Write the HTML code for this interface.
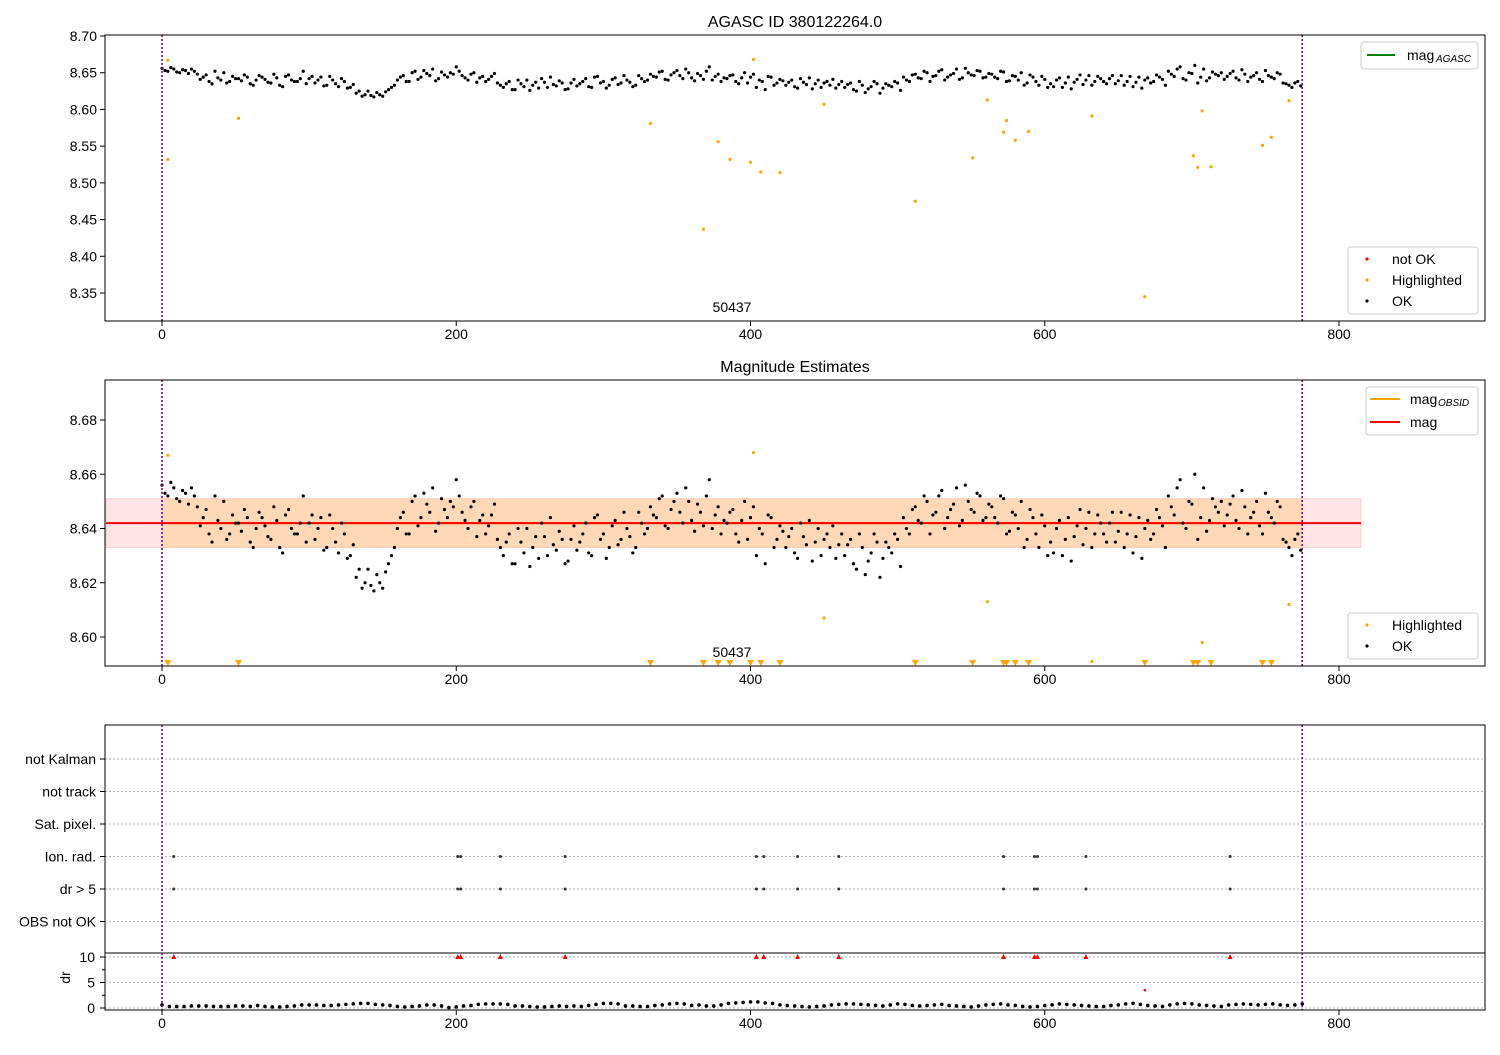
<!DOCTYPE html>
<html><head><meta charset="utf-8">
<style>
body{margin:0;background:#fff;}
svg text{font-family:"Liberation Sans","DejaVu Sans",sans-serif;fill:#000;}
</style></head>
<body>
<svg id="chart" width="1500" height="1050" xmlns="http://www.w3.org/2000/svg"></svg>
<script>
// ---- data ----
const magStep = 4;
// frames 0,4,8,...
const magMilli = [56,52,55,50,53,55,
48,44,38,52,40,36,45,
42,47,35,40,44,37,48,33,45,40,38,52,42,
36,44,33,40,31,38,30,
22,18,25,17,20,24,30,
40,46,38,52,44,49,55,42,47,50,58,
46,40,50,43,38,45,36,
30,38,27,35,40,33,29,37,44,32,36,28,41,
35,42,30,45,38,33,43,36,40,31,46,38,
48,44,52,40,50,46,55,43,49,41,58,45,38,
42,47,35,50,44,30,38,45,33,41,
33,40,29,37,43,35,30,38,41,34,
30,36,25,33,28,38,22,35,31,36,
44,38,48,42,50,45,52,40,47,55,43,50,46,52,44,
48,42,51,39,45,50,36,44,33,41,
35,40,30,44,37,47,40,33,45,38,
42,35,46,38,31,44,40,36,47,41,
52,45,58,40,49,36,55,43,48,50,
45,52,40,48,44,50,38,46,42,48,
35,30,38];
// frames 2,6,10,...
const magMilliB = [53,57,51,54,49,52,
41,47,35,43,50,38,42,
39,44,33,46,41,36,43,31,47,38,42,35,45,
40,32,45,35,42,29,34,
25,20,19,23,18,27,33,
44,38,50,41,53,46,39,51,44,48,52,
43,48,37,45,41,49,33,
35,27,40,31,26,37,42,30,34,39,27,36,32,
38,31,44,36,29,41,34,46,37,33,42,40,
45,51,41,47,53,42,50,39,46,52,40,48,43,
46,38,43,36,48,40,27,44,36,39,
37,31,42,34,28,40,36,33,29,38,
34,27,38,23,31,35,29,33,38,26,
40,47,43,52,38,46,54,44,49,41,56,47,53,43,49,
44,52,38,46,40,33,47,38,45,30,
31,43,36,28,41,34,46,38,42,35,
46,39,33,45,37,29,43,38,44,33,
48,55,42,50,60,44,39,51,46,41,
49,43,54,38,46,41,53,44,50,36,
33,36,32];
const hlX = [4,4,52,332,368,378,386,400,402,407,420,450,512,551,561,572,574,580,589,632,668,701,704,707,713,748,754,766];
const hlMag = [8.667,8.532,8.588,8.581,8.437,8.556,8.532,8.528,8.668,8.515,8.514,8.607,8.475,8.534,8.613,8.569,8.585,8.558,8.570,8.591,8.345,8.537,8.521,8.598,8.522,8.551,8.562,8.612];
const flagX = [8,201,203,230,274,404,409,432,460,572,593,595,628,726];
const drStep = 5;
const drTenths = [6,3,3,3,4,4,4,3,3,3,4,4,3,5,3,2,2,3,4,6,6,6,5,5,6,7,8,9,9,7,6,5,3,2,3,4,6,6,4,1,2,4,5,7,8,8,8,7,4,4,3,2,2,3,4,3,4,3,5,7,9,9,8,4,4,3,3,5,6,8,9,8,5,6,4,4,6,9,10,11,12,12,10,9,6,5,4,3,2,3,4,6,7,8,8,7,6,5,4,6,8,7,5,4,5,6,7,5,4,3,2,4,6,7,8,6,5,3,2,3,5,6,8,7,6,5,4,3,3,5,6,8,9,7,5,4,3,6,8,9,8,6,5,4,3,6,7,8,7,6,7,8,6,5,6,8];
const drOutX = [668]; const drOutV = [3.5];
const magMean = 8.642, magLo = 8.633, magHi = 8.651, nFrames = 775;
const xTicks = [0,200,400,600,800];
const top1Ticks = [8.35,8.40,8.45,8.50,8.55,8.60,8.65,8.70];
const top2Ticks = [8.60,8.62,8.64,8.66,8.68];
const cats = ["not Kalman","not track","Sat. pixel.","Ion. rad.","dr > 5","OBS not OK"];
const drTicks = [0,5,10];

const NS="http://www.w3.org/2000/svg", svg=document.getElementById('chart');
function el(tag,attrs,parent){const e=document.createElementNS(NS,tag);for(const k in attrs)e.setAttribute(k,attrs[k]);(parent||svg).appendChild(e);return e;}
function txt(s,x,y,anchor,size,parent){const t=el('text',{x:x,y:y,'text-anchor':anchor||'middle','font-size':size||14},parent);t.textContent=s;return t;}
const L=105,R=1485;
const X=v=>162+(v)*(1339-162)/800;
const Y1=v=>36+(8.70-v)*(293-36)/0.35;
const Y2=v=>420+(8.68-v)*(637-420)/0.08;
const YD=v=>1008-v*(1008-957)/10;
const magPts = [];
magMilli.forEach((v,i)=>magPts.push([i*magStep, 8.6+v/1000]));
magMilliB.forEach((v,i)=>magPts.push([i*magStep+2, 8.6+v/1000]));

function frame(top,bot,name){
  el('rect',{x:L,y:top,width:R-L,height:bot-top,fill:'none',stroke:'#000','stroke-width':1});
  xTicks.forEach(t=>{el('line',{x1:X(t),x2:X(t),y1:bot,y2:bot+5,stroke:'#000'});txt(String(t),X(t),bot+18);});
}
function vlines(top,bot){
  [0,nFrames].forEach(v=>{el('line',{x1:X(v),x2:X(v),y1:top,y2:bot,stroke:'#800080','stroke-width':1.6,'stroke-dasharray':'2,2'});});
}
// ===== panel 1 =====
const g1=el('g',{});
txt("AGASC ID 380122264.0",795,27,'middle',16,g1);
top1Ticks.forEach(t=>{el('line',{x1:L-5,x2:L,y1:Y1(t),y2:Y1(t),stroke:'#000'},g1);txt(t.toFixed(2),L-8,Y1(t)+5,'end',14,g1);});
vlines(35,321);
magPts.forEach(p=>{const c=el('circle',{cx:X(p[0]),cy:Y1(p[1]),r:1.6,fill:'#000'},g1);});
hlX.forEach((x,i)=>{const c=el('circle',{cx:X(x),cy:Y1(hlMag[i]),r:1.6,fill:'orange'},g1);});
txt("50437",732,312,'middle',14,g1);
frame(35,321,'agasc-axes');
// legends
let lg=el('g',{});
el('rect',{x:1361,y:42,width:117,height:27,rx:3,fill:'#fff',stroke:'#ccc'},lg);
el('line',{x1:1367,x2:1395,y1:55,y2:55,stroke:'green','stroke-width':2},lg);
txt("mag",1407,60,'start',14,lg);txt("AGASC",1436,62,'start',10,lg).setAttribute('font-style','italic');
lg=el('g',{});
el('rect',{x:1348,y:247,width:130,height:67,rx:3,fill:'#fff',stroke:'#ccc'},lg);
[['not OK','red',259],['Highlighted','orange',280],['OK','#000',301]].forEach(a=>{el('circle',{cx:1367,cy:a[2],r:1.6,fill:a[1]},lg);txt(a[0],1392,a[2]+5,'start',14,lg);});

// ===== panel 2 =====
const g2=el('g',{});
txt("Magnitude Estimates",795,372,'middle',16,g2);
el('rect',{x:L+1,y:Y2(magHi),width:X(815)-L-1,height:Y2(magLo)-Y2(magHi),fill:'rgba(255,0,0,0.1)',stroke:'rgba(255,0,0,0.15)'},g2);
el('rect',{x:X(0),y:Y2(magHi),width:X(nFrames)-X(0),height:Y2(magLo)-Y2(magHi),fill:'rgba(255,165,0,0.2)'},g2);
el('line',{x1:X(0),x2:X(nFrames),y1:Y2(magMean),y2:Y2(magMean),stroke:'orange','stroke-width':2},g2);
el('line',{x1:L+1,x2:X(815),y1:Y2(magMean),y2:Y2(magMean),stroke:'red','stroke-width':2},g2);
top2Ticks.forEach(t=>{el('line',{x1:L-5,x2:L,y1:Y2(t),y2:Y2(t),stroke:'#000'},g2);txt(t.toFixed(2),L-8,Y2(t)+5,'end',14,g2);});
vlines(380,666);
magPts.forEach(p=>{const c=el('circle',{cx:X(p[0]),cy:Y2(p[1]),r:1.6,fill:'#000'},g2);});
hlX.forEach((x,i)=>{
  const m=hlMag[i];
  if(m>=8.5893){const c=el('circle',{cx:X(x),cy:Y2(m),r:1.6,fill:'orange'},g2);}
  else{const cx=X(x);const p=el('polygon',{points:`${cx-3.5},660 ${cx+3.5},660 ${cx},666`,fill:'orange'},g2);}
});
txt("50437",732,657,'middle',14,g2);
frame(380,666,'estimates-axes');
lg=el('g',{});
el('rect',{x:1366,y:387,width:112,height:48,rx:3,fill:'#fff',stroke:'#ccc'},lg);
el('line',{x1:1370,x2:1400,y1:399,y2:399,stroke:'orange','stroke-width':2},lg);
txt("mag",1410,404,'start',14,lg);txt("OBSID",1438,406,'start',10,lg).setAttribute('font-style','italic');
el('line',{x1:1370,x2:1400,y1:422,y2:422,stroke:'red','stroke-width':2},lg);
txt("mag",1410,427,'start',14,lg);
lg=el('g',{});
el('rect',{x:1348,y:613,width:130,height:46,rx:3,fill:'#fff',stroke:'#ccc'},lg);
[['Highlighted','orange',625],['OK','#000',646]].forEach(a=>{el('circle',{cx:1367,cy:a[2],r:1.6,fill:a[1]},lg);txt(a[0],1392,a[2]+5,'start',14,lg);});

// ===== panel 3 =====
const g3=el('g',{});
const catY=i=>759+i*32.5;
cats.forEach((c,i)=>{el('line',{x1:L,x2:R,y1:catY(i),y2:catY(i),stroke:'#b0b0b0','stroke-dasharray':'2,2'},g3);el('line',{x1:L-5,x2:L,y1:catY(i),y2:catY(i),stroke:'#000'},g3);txt(c,96,catY(i)+5,'end',14,g3);});
drTicks.forEach(t=>{el('line',{x1:L,x2:R,y1:YD(t),y2:YD(t),stroke:'#b0b0b0','stroke-dasharray':'2,2'},g3);el('line',{x1:L-5,x2:L,y1:YD(t),y2:YD(t),stroke:'#000'},g3);txt(String(t),L-10,YD(t)+5,'end',14,g3);});
[2.5,7.5].forEach(t=>el('line',{x1:L-3,x2:L,y1:YD(t),y2:YD(t),stroke:'#000'},g3));
const dl=txt("dr",70,YD(5)+5,'middle',14,g3);dl.setAttribute('transform',`rotate(-90 65 ${YD(5)})`);
vlines(725,1010);
flagX.forEach(x=>{
  [3,4].forEach(ci=>{const c=el('circle',{cx:X(x),cy:catY(ci),r:1.5,fill:'#333'},g3);});
  const cx=X(x);const p=el('polygon',{points:`${cx-2.5},${YD(10)+2} ${cx+2.5},${YD(10)+2} ${cx},${YD(10)-3}`,fill:'red'},g3);
});
drTenths.forEach((v,i)=>{if(i*drStep>nFrames)return;const c=el('circle',{cx:X(i*drStep),cy:YD(v/10),r:1.8,fill:'#000'},g3);});
drOutX.forEach((x,i)=>{const c=el('circle',{cx:X(x),cy:YD(drOutV[i]),r:1.3,fill:'red'},g3);});
el('line',{x1:L,x2:R,y1:953,y2:953,stroke:'#000'},g3);
frame(725,1010,'flags-axes');
</script>
</body></html>
